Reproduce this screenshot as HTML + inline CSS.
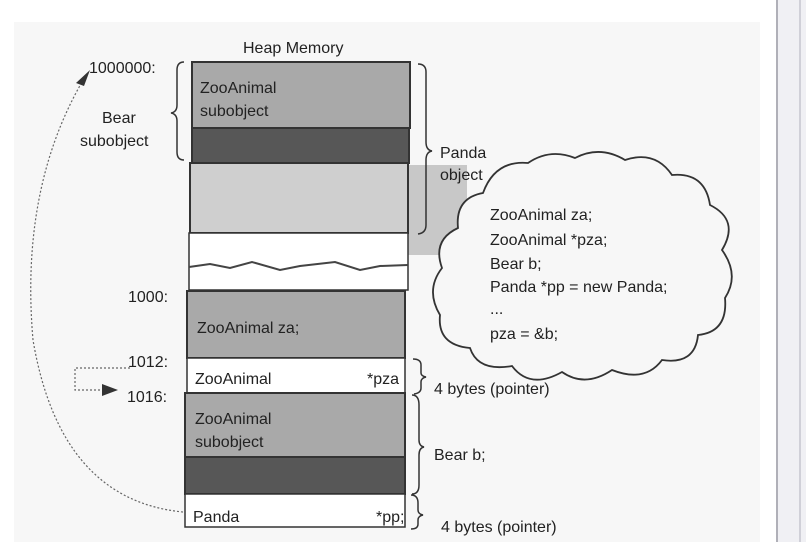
<!DOCTYPE html>
<html><head><style>
body{margin:0;background:#fff;}
svg{display:block;font-family:"Liberation Sans",sans-serif;}
</style></head><body>
<svg width="806" height="542" viewBox="0 0 806 542">
<rect x="0" y="0" width="806" height="542" fill="#fff"/>
<rect x="14" y="22" width="746" height="520" fill="#f7f7f7"/>
<rect x="777" y="0" width="29" height="542" fill="#f0f0f4"/>
<line x1="777" y1="0" x2="777" y2="542" stroke="#b0b0b8" stroke-width="2"/>
<line x1="800" y1="0" x2="800" y2="542" stroke="#d0d0d8" stroke-width="2"/>
<!-- cloud shadow -->
<rect x="405" y="165" width="62" height="90" fill="#c8c8c8"/>
<!-- memory blocks -->
<rect x="192" y="62" width="218" height="66" fill="#a9a9a9" stroke="#333" stroke-width="2"/>
<rect x="192" y="128" width="217" height="35" fill="#575757" stroke="#333" stroke-width="2"/>
<rect x="190" y="163" width="218" height="70" fill="#cfcfcf" stroke="#333" stroke-width="2"/>
<rect x="189" y="233" width="219" height="57" fill="#fff" stroke="#333" stroke-width="1.5"/>
<polyline points="189,267 210,264 230,268 252,262 280,270 300,266 335,262 360,270 380,266 408,265" fill="none" stroke="#444" stroke-width="2"/>
<rect x="187" y="291" width="218" height="67" fill="#a9a9a9" stroke="#333" stroke-width="2"/>
<rect x="187" y="358" width="218" height="35" fill="#fff" stroke="#333" stroke-width="1.5"/>
<rect x="185" y="393" width="220" height="64" fill="#a9a9a9" stroke="#333" stroke-width="2"/>
<rect x="185" y="457" width="220" height="37" fill="#575757" stroke="#333" stroke-width="2"/>
<rect x="185" y="494" width="220" height="33" fill="#fff" stroke="#333" stroke-width="1.5"/>
<!-- cloud -->
<path d="M483,193 Q495,160 528,163 Q550,148 575,158 Q600,145 625,160 Q655,150 672,175 Q705,172 710,205 Q740,220 722,250 Q740,275 725,298 Q728,332 698,335 Q695,365 662,360 Q645,383 612,370 Q585,388 562,372 Q530,390 512,366 Q478,372 470,348 Q437,345 440,315 Q425,290 442,268 Q432,240 458,228 Q455,198 483,193 Z" fill="#f7f7f7" stroke="#333" stroke-width="1.8"/>
<g fill="#222" font-size="16">
<text x="243" y="53">Heap Memory</text>
<text x="89" y="73">1000000:</text>
<text x="200" y="93">ZooAnimal</text>
<text x="200" y="116">subobject</text>
<text x="102" y="123">Bear</text>
<text x="80" y="146">subobject</text>
<text x="440" y="158">Panda</text>
<text x="440" y="180">object</text>
<text x="128" y="302">1000:</text>
<text x="197" y="333">ZooAnimal za;</text>
<text x="128" y="367">1012:</text>
<text x="195" y="384">ZooAnimal</text>
<text x="367" y="384">*pza</text>
<text x="434" y="394">4 bytes (pointer)</text>
<text x="127" y="402">1016:</text>
<text x="195" y="424">ZooAnimal</text>
<text x="195" y="447">subobject</text>
<text x="434" y="460">Bear b;</text>
<text x="193" y="522">Panda</text>
<text x="376" y="522">*pp;</text>
<text x="441" y="532">4 bytes (pointer)</text>
<text x="490" y="220">ZooAnimal za;</text>
<text x="490" y="245">ZooAnimal *pza;</text>
<text x="490" y="269">Bear b;</text>
<text x="490" y="292">Panda *pp = new Panda;</text>
<text x="490" y="314">...</text>
<text x="490" y="339">pza = &amp;b;</text>
</g>
<!-- braces -->
<g fill="none" stroke="#333" stroke-width="1.5">
<path d="M184,62 Q177,62 177,70 L177,105 Q177,112 171,113 Q177,114 177,121 L177,152 Q177,160 184,160"/>
<path d="M418,64 Q426,64 426,72 L426,142 Q426,150 432,151 Q426,152 426,160 L426,225 Q426,233 418,234"/>
<path d="M413,359 Q421,359 421,365 L421,373 Q421,376 426,377 Q421,378 421,382 L421,388 Q421,393 414,394"/>
<path d="M412,395 Q419,395 419,405 L419,440 Q419,446 424,447 Q419,448 419,455 L419,485 Q419,494 412,494"/>
<path d="M411,495 Q418,495 418,503 L418,510 Q418,514 423,515 Q418,516 418,520 L418,524 Q418,529 411,529"/>
</g>
<!-- dotted arrows -->
<g fill="none" stroke="#666" stroke-width="1.2" stroke-dasharray="2,2">
<path d="M183,512 Q60,500 33,340 Q20,190 82,82"/>
<path d="M130,368 L75,368 L75,390 L100,390"/>
</g>
<polygon points="90,70 76,83 84,86" fill="#333"/>
<polygon points="118,390 102,384 102,396" fill="#333"/>
</svg>
</body></html>
